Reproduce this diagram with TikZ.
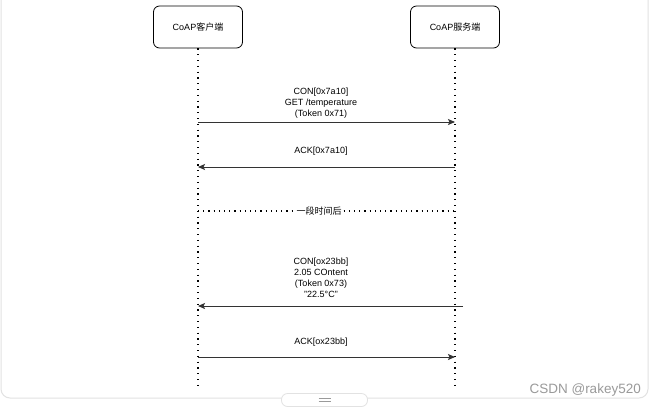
\documentclass[tikz,border=0pt]{standalone}
\usepackage{fontspec}
\setmainfont{Liberation Sans}
\newfontfamily\cjk{Noto Sans CJK SC}
\usetikzlibrary{arrows.meta}
\definecolor{framegray}{HTML}{E2E2E2}
\definecolor{wmgray}{HTML}{9A9A9A}
\definecolor{linecol}{HTML}{333333}
\tikzset{
  actor/.style={draw=black, line width=0.8pt, rounded corners=6pt, minimum width=89pt, minimum height=42pt, inner sep=0pt, font=\fontsize{9}{11}\selectfont},
  lifeline/.style={line width=1.3pt, dash pattern=on 1.2pt off 4.6pt},
  msg/.style={draw=linecol, line width=0.9pt, -{Stealth[length=7pt,width=6pt,inset=1.5pt]}},
  lbl/.style={align=center, font=\fontsize{9}{11}\selectfont, inner sep=0pt},
  gapline/.style={line width=1.2pt, dash pattern=on 1.2pt off 4pt}
}
\begin{document}
\begin{tikzpicture}[x=1pt,y=-1pt]
\useasboundingbox (0,0) rectangle (653,408);
\fill[white] (0,0) rectangle (653,408);
\begin{scope}
\clip (0,0) rectangle (653,408);
\draw[framegray, line width=1pt, rounded corners=9pt] (1,-20) rectangle (648,398);
\end{scope}
% handle
\node[draw=framegray, fill=white, rounded corners=6pt, minimum width=86pt, minimum height=13pt, inner sep=0pt, line width=0.8pt] (handle) at (324.5,400) {};
\draw[wmgray, line width=0.8pt] ([xshift=-6pt,yshift=-1.5pt]handle.center) -- ([xshift=6pt,yshift=-1.5pt]handle.center)
  ([xshift=-6pt,yshift=1.5pt]handle.center) -- ([xshift=6pt,yshift=1.5pt]handle.center);
% actors
\node[actor] (c) at (198,27) {CoAP{\cjk 客户端}};
\node[actor] (s) at (455,27) {CoAP{\cjk 服务端}};
\coordinate (ce) at (198,386);
\coordinate (se) at (455,386);
\draw[lifeline] (c.south) -- (ce);
\draw[lifeline] (s.south) -- (se);
% message 1
\coordinate (m1a) at (198,122);
\coordinate (m1b) at (455,122);
\draw[msg] (m1a) -- (m1b);
\node[lbl] (l1) at (321,103) {CON[0x7a10]\\GET /temperature\\(Token 0x71)};
% message 2
\coordinate (m2a) at (455,167);
\coordinate (m2b) at (198,167);
\draw[msg] (m2a) -- (m2b);
\node[lbl] (l2) at (321,151) {ACK[0x7a10]};
% gap
\coordinate (g1) at (198,211);
\coordinate (g2) at (455,211);
\draw[gapline] (g1) -- (g2);
\node[lbl, fill=white, inner xsep=0.3pt, inner ysep=2pt, font=\fontsize{9}{11}\selectfont\cjk] (gl) at (319,211) {一段时间后};
% message 3
\coordinate (m3a) at (463,306);
\coordinate (m3b) at (198,306);
\draw[msg] (m3a) -- (m3b);
\node[lbl] (l3) at (321,277.5) {CON[ox23bb]\\2.05 COntent\\(Token 0x73)\\"22.5°C"};
% message 4
\coordinate (m4a) at (198,357);
\coordinate (m4b) at (455,357);
\draw[msg] (m4a) -- (m4b);
\node[lbl] (l4) at (321,342) {ACK[ox23bb]};
% watermark
\node[wmgray, font=\fontsize{13.5}{15}\selectfont, anchor=east, inner sep=0pt] (wm) at (641,390) {CSDN @rakey520};
\end{tikzpicture}
\end{document}
